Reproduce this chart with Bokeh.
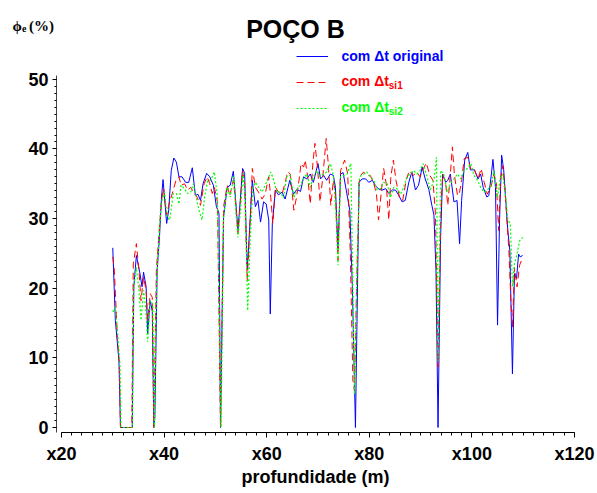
from bokeh.plotting import figure
from bokeh.layouts import column, row
from bokeh.models import Label, Range1d, FixedTicker, Legend, LegendItem
from bokeh.embed import file_html
from bokeh.resources import INLINE

# ---- data ----
depth_orig = [30.0, 30.5, 31.2, 31.5, 33.8, 34.1, 34.6, 35.3, 35.7, 36.0, 36.5, 36.8, 37.3, 37.7, 38.0, 38.2,
              38.65, 39.1, 39.5, 39.8, 40.5, 40.9, 41.4, 41.9, 42.4, 42.9, 43.5, 44.2, 44.8, 45.5, 46.1, 46.6,
              47.1, 47.6, 48.3, 48.9, 49.6, 50.2, 50.7, 51.0, 51.6, 52.3, 52.9, 53.5, 53.9, 54.4, 54.9, 55.3,
              55.7, 56.2, 56.7, 57.2, 57.8, 58.3, 58.8, 59.4, 59.9, 60.4, 60.7, 61.1, 61.7, 62.3, 63.0, 63.6,
              64.5, 65.2, 65.9, 66.6, 67.2, 67.8, 68.5, 69.1, 70.0, 70.5, 71.1, 71.7, 72.4, 73.0, 73.4, 73.9,
              74.4, 74.9, 75.5, 76.2, 76.7, 77.3, 78.0, 78.6, 79.3, 79.9, 80.6, 81.2, 81.9, 82.5, 83.2, 83.8,
              84.5, 85.1, 85.7, 86.4, 87.0, 87.7, 88.3, 89.0, 89.6, 90.3, 90.9, 91.6, 92.2, 92.6, 93.0, 93.4,
              93.9, 94.3, 94.9, 95.3, 95.8, 96.5, 97.1, 97.6, 98.0, 98.6, 99.2, 99.7, 100.5, 101.2, 101.7, 102.2,
              102.9, 103.3, 103.8, 104.1, 104.6, 105.0, 105.4, 105.8, 106.2, 106.6, 107.0, 107.4, 107.9, 108.3,
              108.7, 109.1, 109.4, 109.9]
phi_orig = [25.8, 15.4, 9.6, 0.0, 0.0, 20.2, 24.7, 22.1, 20.2, 22.3, 20.2, 13.5, 18.2, 16.7, 0.0, 1.4,
            22.6, 27.3, 33.1, 35.6, 29.3, 31.2, 36.9, 38.7, 38.1, 36.0, 36.0, 35.2, 35.2, 37.3, 33.3, 33.5,
            32.6, 35.0, 36.5, 36.0, 34.8, 31.7, 30.8, 0.0, 30.2, 34.5, 34.8, 36.8, 33.1, 28.3, 33.1, 37.2,
            36.5, 22.6, 28.8, 35.5, 31.7, 32.6, 29.5, 32.4, 32.1, 29.8, 16.3, 29.3, 34.1, 33.4, 33.8, 32.8,
            35.5, 33.5, 34.2, 33.9, 36.0, 35.7, 36.4, 35.2, 37.9, 35.7, 36.2, 35.5, 36.4, 36.2, 34.5, 25.4,
            36.4, 36.6, 34.1, 31.2, 20.2, 0.0, 35.2, 35.7, 35.7, 35.2, 35.5, 34.7, 34.2, 34.1, 34.3, 33.6,
            34.1, 34.1, 33.4, 32.4, 32.6, 35.2, 36.7, 34.1, 34.8, 37.4, 35.7, 34.2, 31.9, 30.5, 22.6, 0.0,
            27.3, 36.4, 35.2, 35.5, 36.4, 32.4, 32.6, 26.4, 32.6, 38.4, 39.5, 37.0, 37.0, 35.7, 36.4, 34.5,
            33.1, 33.3, 36.4, 38.5, 34.5, 14.7, 30.0, 39.1, 37.0, 32.6, 28.3, 25.4, 7.7, 22.1,
            21.4, 24.9, 24.5, 24.7]

depth_si1 = [30.0, 30.3, 30.9, 31.3, 31.5, 33.7, 34.0, 34.6, 35.1, 35.5, 36.0, 36.5, 36.8, 37.3, 37.7, 38.0,
             38.5, 39.0, 39.5, 39.9, 40.5, 40.9, 41.6, 42.4, 42.9, 43.3, 44.0, 44.6, 45.2, 45.8, 46.3, 46.8,
             47.1, 47.8, 48.4, 48.9, 49.4, 49.8, 50.4, 51.0, 51.6, 52.3, 52.8, 53.5, 53.9, 54.4, 54.9, 55.3,
             55.7, 56.2, 56.7, 57.2, 57.8, 58.4, 59.1, 59.7, 60.4, 60.8, 61.2, 61.7, 62.3, 63.0, 63.6, 64.1,
             64.6, 65.3, 65.8, 66.3, 66.7, 67.2, 67.5, 68.0, 68.5, 69.0, 69.4, 69.9, 70.4, 70.9, 71.6, 72.0,
             72.5, 73.0, 73.4, 73.9, 74.4, 75.2, 75.8, 76.3, 76.8, 77.1, 77.6, 78.1, 78.9, 79.5, 80.2, 80.9,
             81.4, 81.8, 82.3, 82.8, 83.3, 83.8, 84.2, 84.7, 85.2, 85.9, 86.5, 87.2, 87.8, 88.6, 89.2, 89.9,
             90.6, 91.1, 91.8, 92.4, 92.9, 93.4, 93.9, 94.3, 94.9, 95.3, 95.8, 96.2, 96.6, 97.2, 97.6, 98.0,
             98.5, 99.2, 99.8, 100.5, 101.2, 101.8, 102.4, 103.0, 103.7, 104.3, 104.8, 105.2, 105.6, 106.0,
             106.4, 106.8, 107.2, 107.6, 107.9, 108.3, 108.8, 109.3, 109.9]
phi_si1 = [24.5, 22.6, 13.0, 9.1, 0.0, 0.0, 23.5, 26.4, 22.6, 18.2, 21.6, 19.7, 15.4, 19.2, 18.7, 0.0,
           22.6, 27.8, 32.6, 34.3, 30.5, 31.9, 33.6, 35.7, 36.0, 34.8, 35.0, 34.1, 34.5, 33.6, 33.3, 32.4,
           31.9, 35.0, 36.0, 35.0, 33.6, 34.5, 32.4, 0.0, 31.7, 34.8, 33.3, 35.5, 32.6, 27.8, 32.6, 36.9,
           35.0, 21.1, 28.3, 37.2, 34.5, 33.8, 32.8, 33.5, 36.0, 33.0, 29.3, 34.5, 33.8, 33.5, 35.2, 36.7,
           36.4, 31.2, 33.0, 35.5, 37.9, 37.4, 38.4, 36.0, 32.1, 37.9, 40.8, 37.4, 32.4, 35.7, 41.5, 37.9,
           31.9, 35.5, 33.5, 24.0, 36.9, 38.4, 36.4, 24.9, 6.8, 5.3, 22.6, 36.0, 36.7, 36.2, 36.2, 35.0,
           33.5, 29.8, 33.5, 37.2, 35.0, 29.8, 36.0, 38.4, 35.5, 33.0, 32.6, 35.5, 36.9, 36.2, 36.7, 36.0,
           37.2, 38.0, 36.2, 35.5, 30.7, 8.7, 29.8, 36.4, 35.0, 31.9, 36.4, 40.3, 36.2, 33.3, 33.8, 35.5,
           38.6, 38.8, 37.0, 37.0, 35.7, 37.2, 35.2, 33.5, 34.5, 36.4, 35.0, 28.3, 35.7, 37.6,
           34.5, 30.2, 25.6, 18.2, 14.4, 23.0, 20.2, 23.3, 24.4]

depth_si2 = [30.0, 30.5, 30.9, 31.4, 31.6, 33.8, 34.1, 34.6, 35.1, 35.5, 36.0, 36.4, 36.8, 37.3, 37.8, 38.1,
             38.5, 39.0, 39.4, 40.1, 40.6, 41.1, 41.8, 42.4, 42.9, 43.3, 44.0, 44.5, 45.2, 45.7, 46.1, 46.8,
             47.4, 47.9, 48.5, 49.1, 49.8, 50.4, 51.1, 51.6, 52.3, 52.9, 53.6, 54.0, 54.4, 54.9, 55.4, 55.8,
             56.3, 56.8, 57.3, 57.8, 58.4, 59.1, 59.7, 60.4, 60.8, 61.3, 62.0, 62.6, 63.3, 63.9, 64.6, 65.3,
             65.9, 66.6, 67.2, 67.8, 68.5, 69.1, 69.8, 70.4, 71.1, 71.7, 72.4, 73.0, 73.5, 73.9, 74.4, 75.0,
             75.7, 76.4, 76.8, 77.1, 77.6, 78.1, 78.9, 79.5, 80.2, 80.9, 81.5, 82.2, 82.8, 83.5, 84.1, 84.8,
             85.4, 86.1, 86.7, 87.3, 88.0, 88.6, 89.3, 89.9, 90.5, 91.2, 91.9, 92.6, 93.1, 93.4, 93.9, 94.5,
             95.2, 95.8, 96.5, 97.2, 97.8, 98.5, 99.1, 99.8, 100.4, 101.1, 101.7, 102.4, 103.0, 103.7, 104.3,
             105.0, 105.5, 106.0, 106.6, 107.0, 107.5, 107.9, 108.3, 108.8, 109.3, 109.9]
phi_si2 = [16.6, 17.3, 13.9, 9.1, 0.0, 0.0, 20.2, 23.0, 19.7, 15.4, 19.7, 17.3, 12.3, 18.2, 17.7, 0.0,
           20.2, 27.3, 32.1, 33.8, 30.2, 29.8, 33.6, 33.6, 32.1, 34.8, 34.3, 33.6, 33.8, 35.0, 33.6, 31.2,
           29.8, 33.1, 35.5, 35.5, 36.7, 33.1, 0.0, 30.2, 34.5, 33.1, 36.2, 30.8, 27.3, 31.2, 36.5, 33.1,
           16.8, 27.3, 34.3, 35.2, 34.5, 33.8, 34.8, 36.0, 36.7, 35.7, 33.8, 33.8, 33.0, 36.0, 36.2, 33.0,
           34.2, 34.8, 35.7, 36.4, 34.5, 36.0, 36.9, 36.0, 36.4, 36.7, 37.9, 36.2, 30.7, 23.3, 36.0, 36.2,
           36.4, 37.9, 20.2, 4.8, 22.6, 36.0, 36.4, 36.7, 36.0, 35.5, 34.1, 34.3, 35.2, 35.0, 33.0, 34.5,
           34.3, 33.5, 34.5, 36.0, 36.4, 36.9, 36.4, 36.9, 37.9, 36.2, 34.1, 35.5, 38.8, 9.6, 36.9, 36.4,
           33.8, 35.0, 35.7, 36.4, 35.7, 36.9, 37.2, 37.9, 36.2, 35.5, 34.5, 33.8, 34.1, 34.8, 36.9,
           33.0, 35.7, 36.4, 33.0, 29.8, 29.3, 20.2, 23.5, 24.9, 26.8, 27.3]

x_ticks = [20, 40, 60, 80, 100, 120]
x_tick_labels = ["x20", "x40", "x60", "x80", "x100", "x120"]
y_ticks = [0, 10, 20, 30, 40, 50]

title_text = "POÇO B"
x_label = "profundidade (m)"
y_label_parts = ["ϕ", "e", "(%)"]
legend_main = ["com Δt original", "com Δt", "com Δt"]
legend_sub = ["", "si1", "si2"]

BLUE, RED, GREEN = "#0000ff", "#ff0000", "#00ff00"
SANS = "Liberation Sans"
SERIF = "Liberation Serif"
W, H_TOP, H_MAIN = 597, 44, 449

# ---- header strip: title and y-axis quantity (text only) ----
top = figure(width=W, height=H_TOP, output_backend="svg", toolbar_location=None, title=None,
             x_range=Range1d(0, W), y_range=Range1d(H_TOP, 0),
             x_axis_location=None, y_axis_location=None,
             min_border_left=0, min_border_right=0, min_border_top=0, min_border_bottom=0)
top.outline_line_color = None
top.grid.visible = False
top.add_layout(Label(x=295, y=28, text=title_text, text_font=SANS, text_font_style="bold",
                     text_font_size="25px", text_align="center", text_baseline="middle",
                     text_color="black"))
top.add_layout(Label(x=12, y=25, text=y_label_parts[0], text_font=SERIF, text_font_style="bold",
                     text_font_size="15px", text_align="left", text_baseline="middle",
                     text_color="black"))
top.add_layout(Label(x=21.5, y=27.5, text=y_label_parts[1], text_font=SERIF, text_font_style="bold",
                     text_font_size="10px", text_align="left", text_baseline="middle",
                     text_color="black"))
top.add_layout(Label(x=28.5, y=25, text=y_label_parts[2], text_font=SERIF, text_font_style="bold",
                     text_font_size="15px", text_align="left", text_baseline="middle",
                     text_color="black"))

# ---- main chart ----
p = figure(width=W, height=H_MAIN, output_backend="svg", toolbar_location=None, title=None,
           x_range=Range1d(19.03, 120), y_range=Range1d(-0.72, 55.0),
           min_border_left=56, min_border_right=23, min_border_top=0, min_border_bottom=61)
p.outline_line_color = None
p.grid.visible = False

r_b = p.line(depth_orig, phi_orig, line_color=BLUE, line_width=1)
r_r = p.line(depth_si1, phi_si1, line_color=RED, line_width=1, line_dash="7 4")
r_g = p.line(depth_si2, phi_si2, line_color=GREEN, line_width=1.2, line_dash="2 2")

xa = p.xaxis[0]
xa.ticker = FixedTicker(ticks=x_ticks, minor_ticks=list(range(20, 121, 2)))
xa.major_label_overrides = {t: s for t, s in zip(x_ticks, x_tick_labels)}
xa.bounds = (20, 120)
xa.major_tick_out = 5
xa.major_tick_in = 0
xa.minor_tick_out = 3
xa.minor_tick_in = 0
xa.major_label_standoff = 6
xa.major_label_text_font = SANS
xa.major_label_text_font_style = "bold"
xa.major_label_text_font_size = "18px"
xa.major_label_text_color = "black"
xa.axis_line_color = "black"
xa.axis_label = x_label
xa.axis_label_standoff = 0
xa.axis_label_text_font = SANS
xa.axis_label_text_font_style = "bold"
xa.axis_label_text_font_size = "18px"
xa.axis_label_text_color = "black"

ya = p.yaxis[0]
ya.ticker = FixedTicker(ticks=y_ticks, minor_ticks=list(range(0, 51, 1)))
ya.bounds = (-0.72, 50.6)
ya.major_tick_out = 4
ya.major_tick_in = 0
ya.minor_tick_out = 2
ya.minor_tick_in = 0
ya.major_label_standoff = 4
ya.major_label_text_font = SANS
ya.major_label_text_font_style = "bold"
ya.major_label_text_font_size = "18px"
ya.major_label_text_color = "black"
ya.axis_line_color = "#444444"

leg = Legend(items=[LegendItem(label=" ", renderers=[r]) for r in (r_b, r_r, r_g)],
             location=(240, 314), orientation="vertical",
             glyph_width=32, glyph_height=20, label_height=20, label_width=0,
             label_standoff=0, spacing=6, padding=0, margin=0,
             border_line_color=None, background_fill_alpha=0,
             label_text_font_size="1px")
p.add_layout(leg, "center")

leg_cols = [BLUE, RED, GREEN]
leg_y = [53.3, 49.7, 46.0]
for txt, sub, col, yy in zip(legend_main, legend_sub, leg_cols, leg_y):
    p.add_layout(Label(x=74.58, y=yy, text=txt, text_font=SANS, text_font_style="bold",
                       text_font_size="14px", text_align="left", text_baseline="middle", text_color=col))
    if sub:
        p.add_layout(Label(x=83.8, y=yy - 0.6, text=sub, text_font=SANS, text_font_style="bold",
                           text_font_size="10px", text_align="left", text_baseline="middle", text_color=col))

layout = column(row(top), p, spacing=0)
open("out.html", "w").write(file_html(layout, INLINE))
